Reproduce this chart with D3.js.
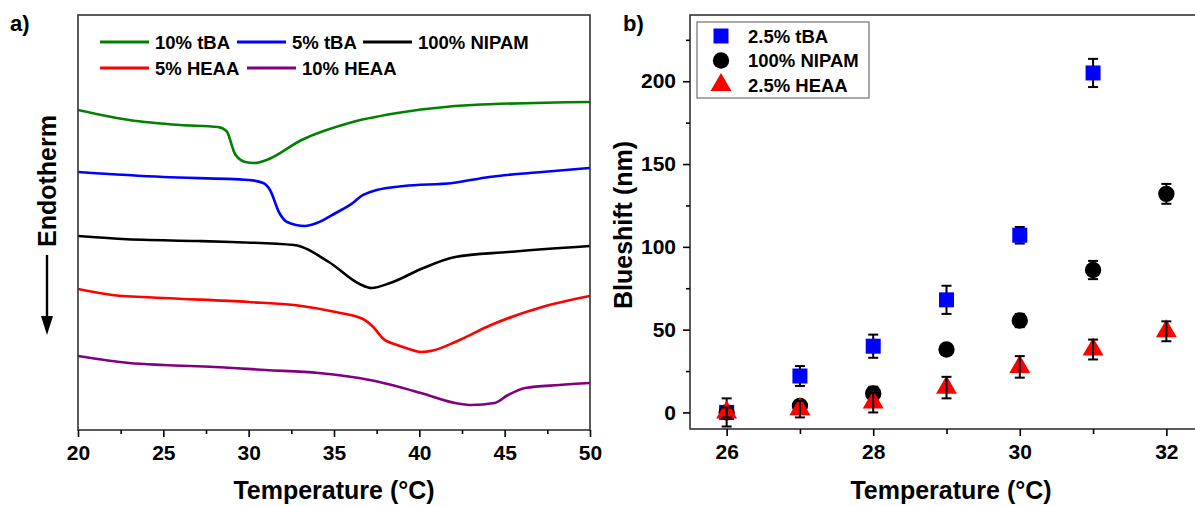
<!DOCTYPE html>
<html>
<head>
<meta charset="utf-8">
<script src="https://cdn.jsdelivr.net/npm/d3@7"></script>
<style>
  body { margin: 0; background: #fff; }
  text { font-family: "Liberation Sans", Arial, sans-serif; font-weight: bold; fill: #000; }
</style>
</head>
<body>
<div id="chart"></div>
<script>
// panel a) DSC traces: [temperature (°C), heat flow (arbitrary units, offset per trace)]
const tBA10 = [[20,320],[23,310],[26,305],[28.2,303],[28.7,299],[29.2,276],[29.8,268],[30.35,267],[31.05,270],[33.1,290],[36.1,308],[39.1,318],[43.1,325],[50,328]];
const tBA5 = [[20,258],[25,253],[30,250],[30.85,247],[31.25,240],[31.8,217],[32.25,208],[33.3,204],[34,207],[35.1,217],[36.1,227],[36.6,234],[37.5,240],[39.1,244],[41.95,247],[44.1,253],[47.2,258],[50,262]];
const nipam100 = [[20,194],[22.6,191],[27,189],[29,188],[32.65,185],[34.7,168],[36.5,146],[37.2,142],[38.3,147],[40.1,161],[42.1,173],[45.2,178],[50,184]];
const heaa5 = [[20,141],[22,135],[25,132],[30,128],[33.1,124],[35.1,118],[36.7,111],[37.3,103],[37.9,91],[38.7,85],[39.4,81],[40.1,78],[40.8,79.5],[42.1,88],[44.2,105],[47.2,123],[50,134]];
const heaa10 = [[20,74],[23,67],[25,65],[28,63],[31,60],[34.1,57],[37.1,50],[40.1,37],[42.1,27],[43.05,25],[44.4,27],[45.2,35],[46.2,42],[48.2,45],[50,47]];

const tracesA = [
  {name: "10% tBA", data: tBA10, color: "#008000"},
  {name: "5% tBA", data: tBA5, color: "#0000ff"},
  {name: "100% NIPAM", data: nipam100, color: "#000000"},
  {name: "5% HEAA", data: heaa5, color: "#ff0000"},
  {name: "10% HEAA", data: heaa10, color: "#800080"}
];

// panel b) blueshift vs temperature
const tempB = [26, 27, 28, 29, 30, 31, 32];
const shiftTBA = [0, 22, 40, 68, 107, 205, null];
const errTBA = [8.5, 6, 7, 8.5, 5, 8.5, null];
const shiftNIPAM = [0, 4, 11.5, 38, 55.5, 86, 132];
const errNIPAM = [3, 3, 4, 3, 4, 5.5, 6];
const shiftHEAA = [0, 2, 6, 15, 27.5, 38, 49];
const errHEAA = [3, 5, 6, 6.5, 6.5, 6, 6];

const svg = d3.select("#chart").append("svg")
    .attr("width", 1195)
    .attr("height", 506);

// ---------- panel a ----------
const xa = d3.scaleLinear().domain([20, 50]).range([78, 590]);
const ya = d3.scaleLinear().domain([0, 415]).range([430, 15]);

svg.append("clipPath").attr("id", "clipA")
  .append("rect").attr("x", 78).attr("y", 15).attr("width", 512).attr("height", 415);

const line = d3.line()
    .x(d => xa(d[0]))
    .y(d => ya(d[1]))
    .curve(d3.curveMonotoneX);

svg.append("g").attr("clip-path", "url(#clipA)")
  .selectAll("path")
  .data(tracesA)
  .enter().append("path")
    .attr("d", d => line(d.data))
    .attr("fill", "none")
    .attr("stroke", d => d.color)
    .attr("stroke-width", 2.6);

svg.append("rect")
    .attr("x", 78).attr("y", 15).attr("width", 512).attr("height", 415)
    .attr("fill", "none").attr("stroke", "#333").attr("stroke-width", 1.6);

const axA = svg.append("g").attr("transform", "translate(0,430)")
    .call(d3.axisBottom(xa).tickValues(d3.range(20, 51, 5)).tickSize(7).tickPadding(8).tickFormat(d3.format("d")));
axA.select(".domain").remove();
axA.selectAll("text").style("font-size", "21px");
axA.selectAll("line").attr("stroke-width", 1.6);

const axAminor = svg.append("g").attr("transform", "translate(0,430)")
    .call(d3.axisBottom(xa).tickValues(d3.range(22.5, 50, 5)).tickSize(4).tickFormat(""));
axAminor.select(".domain").remove();
axAminor.selectAll("line").attr("stroke-width", 1.6);

svg.append("text").attr("x", 334).attr("y", 499).attr("text-anchor", "middle")
    .style("font-size", "25px").text("Temperature (°C)");

// Endotherm label with arrow
svg.append("text").attr("transform", "translate(56,181) rotate(-90)")
    .attr("text-anchor", "middle").style("font-size", "25px").text("Endotherm");
svg.append("line").attr("x1", 47).attr("x2", 47).attr("y1", 255).attr("y2", 320)
    .attr("stroke", "#000").attr("stroke-width", 2.4);
svg.append("path").attr("d", "M41,316 L53,316 L47,335 Z").attr("fill", "#000");

// legend a
const legA = [
  {i: 0, x: 100, y: 42}, {i: 1, x: 237, y: 42}, {i: 2, x: 363, y: 42},
  {i: 3, x: 100, y: 68}, {i: 4, x: 247, y: 68}
];
const legAg = svg.append("g").selectAll("g").data(legA).enter().append("g")
    .attr("transform", d => `translate(${d.x},${d.y})`);
legAg.append("line").attr("x1", 0).attr("x2", 49).attr("y1", 0).attr("y2", 0)
    .attr("stroke", d => tracesA[d.i].color).attr("stroke-width", 3);
legAg.append("text").attr("x", 55).attr("y", 6.6).style("font-size", "18.5px")
    .text(d => tracesA[d.i].name);

svg.append("text").attr("x", 10).attr("y", 31).style("font-size", "22px").text("a)");

// ---------- panel b ----------
const xb = d3.scaleLinear().domain([25.5, 32.5]).range([690, 1203]);
const yb = d3.scaleLinear().domain([-10, 240]).range([429, 15]);

svg.append("rect")
    .attr("x", 690).attr("y", 15).attr("width", 513).attr("height", 414)
    .attr("fill", "none").attr("stroke", "#333").attr("stroke-width", 1.6);

const axBx = svg.append("g").attr("transform", "translate(0,429)")
    .call(d3.axisBottom(xb).tickValues([26, 28, 30, 32]).tickSize(7).tickPadding(8).tickFormat(d3.format("d")));
axBx.select(".domain").remove();
axBx.selectAll("text").style("font-size", "21px");
axBx.selectAll("line").attr("stroke-width", 1.6);
const axBxm = svg.append("g").attr("transform", "translate(0,429)")
    .call(d3.axisBottom(xb).tickValues([27, 29, 31]).tickSize(5).tickFormat(""));
axBxm.select(".domain").remove();
axBxm.selectAll("line").attr("stroke-width", 1.6);

const axBy = svg.append("g").attr("transform", "translate(690,0)")
    .call(d3.axisLeft(yb).tickValues([0, 50, 100, 150, 200]).tickSize(7).tickPadding(7));
axBy.select(".domain").remove();
axBy.selectAll("text").style("font-size", "21px");
axBy.selectAll("line").attr("stroke-width", 1.6);
const axBym = svg.append("g").attr("transform", "translate(690,0)")
    .call(d3.axisLeft(yb).tickValues([25, 75, 125, 175, 225]).tickSize(4).tickFormat(""));
axBym.select(".domain").remove();
axBym.selectAll("line").attr("stroke-width", 1.6);

svg.append("text").attr("x", 951).attr("y", 499).attr("text-anchor", "middle")
    .style("font-size", "25px").text("Temperature (°C)");
svg.append("text").attr("transform", "translate(632,225) rotate(-90)")
    .attr("text-anchor", "middle").style("font-size", "25px").text("Blueshift (nm)");

svg.append("text").attr("x", 623).attr("y", 31).style("font-size", "22px").text("b)");

const seriesB = [
  {name: "2.5% tBA", vals: shiftTBA, errs: errTBA, color: "#0000ff", sym: d3.symbolSquare, size: 225, barsOnTop: false},
  {name: "100% NIPAM", vals: shiftNIPAM, errs: errNIPAM, color: "#000000", sym: d3.symbolCircle, size: 210, barsOnTop: false},
  {name: "2.5% HEAA", vals: shiftHEAA, errs: errHEAA, color: "#ff0000", sym: d3.symbolTriangle, size: 190, barsOnTop: true}
];

function drawBars(g, s, pts) {
  const bars = g.append("g").selectAll("g").data(pts).enter().append("g")
      .attr("stroke", "#000").attr("stroke-width", 2);
  bars.append("line")
      .attr("x1", d => xb(d.t)).attr("x2", d => xb(d.t))
      .attr("y1", d => yb(d.v + d.e)).attr("y2", d => yb(d.v - d.e));
  bars.append("line")
      .attr("x1", d => xb(d.t) - 5).attr("x2", d => xb(d.t) + 5)
      .attr("y1", d => yb(d.v + d.e)).attr("y2", d => yb(d.v + d.e));
  bars.append("line")
      .attr("x1", d => xb(d.t) - 5).attr("x2", d => xb(d.t) + 5)
      .attr("y1", d => yb(d.v - d.e)).attr("y2", d => yb(d.v - d.e));
}

seriesB.forEach(s => {
  const pts = tempB.map((t, i) => ({t: t, v: s.vals[i], e: s.errs[i]})).filter(d => d.v !== null);
  const g = svg.append("g");
  if (!s.barsOnTop) drawBars(g, s, pts);
  g.append("g").selectAll("path").data(pts).enter().append("path")
      .attr("transform", d => `translate(${xb(d.t)},${yb(d.v)})`)
      .attr("d", d3.symbol().type(s.sym).size(s.size))
      .attr("fill", s.color);
  if (s.barsOnTop) drawBars(g, s, pts);
});

// legend b
const legB = svg.append("g");
legB.append("rect").attr("x", 697).attr("y", 22).attr("width", 172).attr("height", 76)
    .attr("fill", "#fff").attr("stroke", "#555").attr("stroke-width", 1);
const legBg = legB.selectAll("g").data(seriesB).enter().append("g")
    .attr("transform", (d, i) => `translate(721,${36 + i * 24.5})`);
legBg.append("path").attr("d", d => d3.symbol().type(d.sym).size(d.size)()).attr("fill", d => d.color);
legBg.append("text").attr("x", 27).attr("y", 6.6).style("font-size", "18.5px").text(d => d.name);
</script>
</body>
</html>
